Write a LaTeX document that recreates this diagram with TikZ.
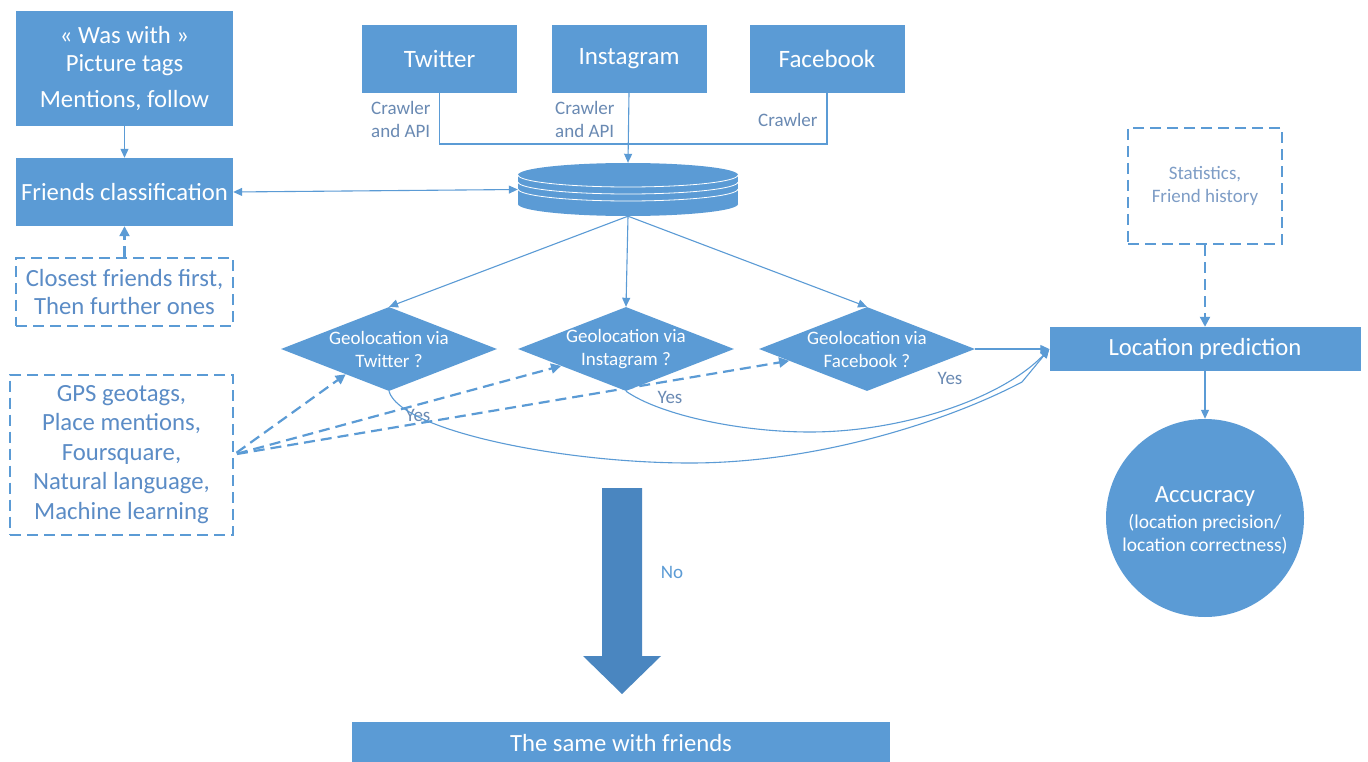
\documentclass[tikz,border=0pt]{standalone}
\usepackage{fontspec}
\setmainfont{Carlito}
\usetikzlibrary{shapes.geometric,arrows.meta,calc}
\definecolor{cb}{HTML}{5B9BD5}
\definecolor{cbd}{HTML}{4A86C0}
\definecolor{ctx}{HTML}{5B8CC6}
\definecolor{clab}{HTML}{6A8AB3}
\definecolor{cst}{HTML}{7E9DC6}
\begin{document}
\begin{tikzpicture}[x=1pt,y=-1pt,
 fbox/.style={fill=cb, draw=none, text=white, inner sep=0pt, font=\fontsize{24.7}{28}\selectfont, align=center},
 dbox/.style={draw=cb, line width=2pt, dash pattern=on 11pt off 6pt, text=ctx, inner sep=0pt, align=center},
 conn/.style={draw=cb, line width=1.1pt, -{Triangle[length=9pt,width=8pt]}},
 conn2/.style={draw=cb, line width=1.1pt, {Triangle[length=9pt,width=8pt]}-{Triangle[length=9pt,width=8pt]}},
 plain/.style={draw=cb, line width=1.1pt},
 dconn/.style={draw=cb, line width=2.2pt, dash pattern=on 11pt off 6pt, -{Triangle[length=10pt,width=10pt]}},
 lab/.style={text=clab, font=\fontsize{19}{23}\selectfont, inner sep=0pt, align=left},
 diam/.style={diamond, fill=cb, draw=none, inner sep=0pt, minimum width=216pt, minimum height=84pt},
 dtext/.style={text=white, font=\fontsize{19}{23}\selectfont, align=center, inner sep=0pt}
]
\fill[white] (0,0) rectangle (1368,762);
\useasboundingbox (0,0) rectangle (1368,762);

% left column
\node[fbox, minimum width=217pt, minimum height=115pt] (ww) at (124.5,68.5) {« Was with »\\Picture tags\\[8pt]Mentions, follow};
\node[fbox, minimum width=217pt, minimum height=68pt] (fc) at (124.5,192) {Friends classification};
\node[dbox, minimum width=217pt, minimum height=68pt, font=\fontsize{24.7}{28}\selectfont] (cf) at (124.5,292) {Closest friends first,\\Then further ones};
\node[dbox, minimum width=223pt, minimum height=160pt, font=\fontsize{24.7}{29.5}\selectfont] (gps) at (121.5,454.5) {GPS geotags,\\Place mentions,\\Foursquare,\\Natural language,\\Machine learning};

% sources
\node[fbox, minimum width=155pt, minimum height=68pt, font=\fontsize{25}{28}\selectfont] (tw) at (439.5,59) {Twitter};
\node[fbox, minimum width=155pt, minimum height=68pt, font=\fontsize{25}{28}\selectfont] (in) at (629,59) {Instagram};
\node[fbox, minimum width=155pt, minimum height=68pt, font=\fontsize{25}{28}\selectfont] (fb) at (827,59) {Facebook};
\node[lab, anchor=west] (ltw) at (371,119) {Crawler\\and API};
\node[lab, anchor=west] (lin) at (555,119) {Crawler\\and API};
\node[lab, anchor=west] (lfb) at (758,120) {Crawler};

% database
\fill[cb] (518,175) rectangle (738,204);
\fill[cb] (628,204) ellipse [x radius=110, y radius=12];
\fill[cb] (628,175) ellipse [x radius=110, y radius=12];
\foreach \yc in {175,182,189}
  \draw[white, line width=0.8pt] (518,\yc) arc[start angle=180, end angle=0, x radius=110, y radius=12];
\node[inner sep=0pt, minimum width=220pt, minimum height=53pt] (db) at (628,189.5) {};

% diamonds
\node[diam] (dtw) at (389,349) {};
\node[dtext] (ttw) at (389,349) {Geolocation via\\Twitter ?};
\node[diam] (din) at (626,349) {};
\node[dtext] (tin) at (626,349) {Geolocation via\\Instagram ?};
\node[diam] (dfb) at (867,349) {};
\node[dtext] (tfb) at (867,349) {Geolocation via\\Facebook ?};

% right column
\node[dbox, minimum width=154pt, minimum height=116pt, text=cst, font=\fontsize{19}{23}\selectfont] (st) at (1205,186) {Statistics,\\Friend history};
\node[fbox, minimum width=311pt, minimum height=44pt] (lp) at (1205,349) {Location prediction};
\node[circle, fill=cb, draw=none, inner sep=0pt, minimum size=198pt] (acc) at (1205,518) {};
\node[text=white, inner sep=0pt, font=\fontsize{24.7}{28}\selectfont] (acct) at (1205,497) {Accucracy};
\node[text=white, inner sep=0pt, align=center, font=\fontsize{19.5}{23}\selectfont] (accs) at (1205,534) {(location precision/\\location correctness)};

% bottom
\fill[cbd] (602,488) -- (642,488) -- (642,656) -- (661,656) -- (622,694) -- (583,656) -- (602,656) -- cycle;
\node[text=cb, inner sep=0pt, font=\fontsize{19}{22}\selectfont] (no) at (672,572) {No};
\node[fbox, minimum width=538pt, minimum height=42pt] (sw) at (621,743) {The same with friends};

% labels Yes
\node[lab] (y1) at (418,415) {Yes};
\node[lab] (y2) at (670,397) {Yes};
\node[lab] (y3) at (950,378) {Yes};

% connectors
\coordinate (hbar) at (0,144);
\draw[plain] (tw.south) |- (hbar -| fb.south) -- (fb.south);
\draw[conn] (in.south) -- (db.north);
\draw[conn] (ww.south) -- (fc.north);
\draw[conn2] (fc.east) -- (db.west);
\draw[dconn] (cf.north) -- (fc.south);
\draw[conn] (db.south) -- (dtw.north);
\draw[conn] (db.south) -- (din.north);
\draw[conn] (db.south) -- (dfb.north);
\draw[dconn, shorten <=3pt] (gps.east) -- ($(dtw.west)!0.6!(dtw.south)$);
\draw[dconn, shorten <=3pt] (gps.east) -- ($(din.west)!0.4!(din.south)$);
\draw[dconn, shorten <=3pt] (gps.east) -- ($(dfb.west)!0.28!(dfb.south)$);
\draw[conn] (dfb.east) -- (lp.west);
\coordinate (m1) at (810,432);
\coordinate (m2) at (690,463);
\coordinate (k2) at (1022,382);
\draw[conn] (din.south) .. controls (660,415) and (740,432) .. (m1) .. controls (900,432) and (1000,400) .. (lp.west);
\draw[conn] (dtw.south) .. controls (400,430) and (560,463) .. (m2) .. controls (820,463) and (950,420) .. (k2) -- (lp.west);
\draw[dconn] (st.south) -- (lp.north);
\draw[conn] (lp.south) -- (acc.north);
\end{tikzpicture}
\end{document}
